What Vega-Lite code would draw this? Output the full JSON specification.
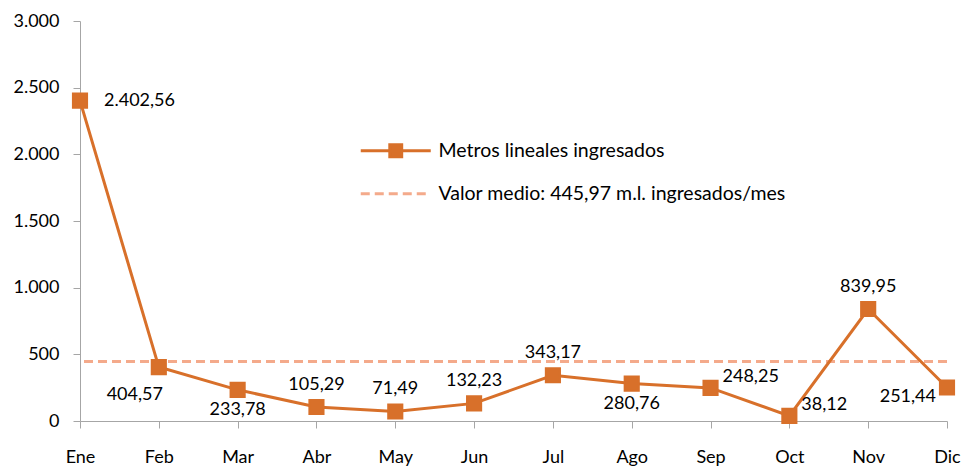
{
  "$schema": "https://vega.github.io/schema/vega-lite/v6.json",
  "autosize": "none",
  "width": 867,
  "height": 400,
  "padding": {"left": 80, "top": 21, "right": 14, "bottom": 50},
  "config": {
    "locale": {"number": {"decimal": ",", "thousands": ".", "grouping": [3], "currency": ["", " €"]}},
    "view": {"stroke": null},
    "font": "Lato",
    "text": {"font": "Lato", "fontSize": 18, "color": "#000"}
  },
  "datasets": {
    "meses": [
      {"mes": "Ene", "valor": 2402.56},
      {"mes": "Feb", "valor": 404.57},
      {"mes": "Mar", "valor": 233.78},
      {"mes": "Abr", "valor": 105.29},
      {"mes": "May", "valor": 71.49},
      {"mes": "Jun", "valor": 132.23},
      {"mes": "Jul", "valor": 343.17},
      {"mes": "Ago", "valor": 280.76},
      {"mes": "Sep", "valor": 248.25},
      {"mes": "Oct", "valor": 38.12},
      {"mes": "Nov", "valor": 839.95},
      {"mes": "Dic", "valor": 251.44}
    ],
    "media": [{"media": 445.97}]
  },
  "layer": [
    {
      "data": {"name": "media"},
      "mark": {"type": "rule", "strokeWidth": 3, "strokeDash": [9, 5]},
      "encoding": {
        "y": {"field": "media", "type": "quantitative", "scale": {"domain": [0, 3000]}},
        "strokeDash": {
          "datum": "Valor medio: 445,97 m.l. ingresados/mes",
          "scale": {"domain": ["Valor medio: 445,97 m.l. ingresados/mes"], "range": [[9, 5]]},
          "legend": {
            "orient": "none", "legendX": 306, "legendY": 163, "title": null,
            "symbolType": "M-5,0H5", "symbolSize": 196, "symbolStrokeColor": "#F4AA8B",
            "symbolStrokeWidth": 3, "symbolDash": [9, 5], "labelOffset": 33,
            "labelFont": "Lato", "labelFontSize": 19.5, "labelColor": "#000", "labelLimit": 600
          }
        },
        "color": {"value": "#F4AA8B"}
      }
    },
    {
      "data": {"name": "meses"},
      "mark": {"type": "line", "strokeWidth": 3, "color": "#D8702A",
               "point": {"shape": "square", "size": 200, "filled": true, "color": "#D8702A", "opacity": 1}},
      "encoding": {
        "x": {"field": "mes", "type": "ordinal", "sort": null,
              "scale": {"type": "point", "padding": 0},
              "axis": {"title": null, "labelAngle": 0, "labelFont": "Lato", "labelFontSize": 18, "labelColor": "#000",
                       "domainColor": "#A6A6A6", "tickColor": "#A6A6A6", "tickSize": 7, "labelPadding": 20,
                       "domainWidth": 1, "tickWidth": 1}},
        "y": {"field": "valor", "type": "quantitative", "scale": {"domain": [0, 3000]},
              "axis": {"title": null, "values": [0, 500, 1000, 1500, 2000, 2500, 3000], "format": ",.0f",
                       "grid": false, "labelFont": "Lato", "labelFontSize": 18, "labelColor": "#000",
                       "domainColor": "#A6A6A6", "tickColor": "#A6A6A6", "tickSize": 7, "labelPadding": 14}},
        "stroke": {
          "datum": "Metros lineales ingresados",
          "scale": {"domain": ["Metros lineales ingresados"], "range": ["#D8702A"]},
          "legend": {
            "orient": "none", "legendX": 306, "legendY": 120, "title": null,
            "symbolType": "M-5,0H5M-0.85,-0.85H0.85V0.85H-0.85Z", "symbolSize": 196,
            "symbolFillColor": "#D8702A", "symbolStrokeColor": "#D8702A", "symbolStrokeWidth": 3,
            "labelOffset": 33, "labelFont": "Lato", "labelFontSize": 19.5, "labelColor": "#000", "labelLimit": 600
          }
        }
      }
    },
    {
      "data": {"name": "meses"},
      "transform": [{"filter": "datum.mes === 'Ene'"}],
      "mark": {"type": "text", "align": "left", "baseline": "middle", "dx": 24, "dy": 0},
      "encoding": {
        "x": {"field": "mes", "type": "ordinal", "sort": null},
        "y": {"field": "valor", "type": "quantitative"},
        "text": {"field": "valor", "type": "quantitative", "format": ",.2f"}
      }
    },
    {
      "data": {"name": "meses"},
      "transform": [{"filter": "datum.mes === 'Sep' || datum.mes === 'Oct'"}],
      "mark": {"type": "text", "align": "left", "baseline": "middle", "dx": 12, "dy": -11},
      "encoding": {
        "x": {"field": "mes", "type": "ordinal", "sort": null},
        "y": {"field": "valor", "type": "quantitative"},
        "text": {"field": "valor", "type": "quantitative", "format": ",.2f"}
      }
    },
    {
      "data": {"name": "meses"},
      "transform": [{"filter": "datum.mes === 'Feb'"}],
      "mark": {"type": "text", "align": "center", "baseline": "middle", "dx": -24, "dy": 28},
      "encoding": {
        "x": {"field": "mes", "type": "ordinal", "sort": null},
        "y": {"field": "valor", "type": "quantitative"},
        "text": {"field": "valor", "type": "quantitative", "format": ",.2f"}
      }
    },
    {
      "data": {"name": "meses"},
      "transform": [{"filter": "datum.mes === 'Mar' || datum.mes === 'Ago'"}],
      "mark": {"type": "text", "align": "center", "baseline": "middle", "dy": 20},
      "encoding": {
        "x": {"field": "mes", "type": "ordinal", "sort": null},
        "y": {"field": "valor", "type": "quantitative"},
        "text": {"field": "valor", "type": "quantitative", "format": ",.2f"}
      }
    },
    {
      "data": {"name": "meses"},
      "transform": [{"filter": "indexof(['Abr','May','Jun','Jul','Nov'], datum.mes) >= 0"}],
      "mark": {"type": "text", "align": "center", "baseline": "middle", "dy": -22},
      "encoding": {
        "x": {"field": "mes", "type": "ordinal", "sort": null},
        "y": {"field": "valor", "type": "quantitative"},
        "text": {"field": "valor", "type": "quantitative", "format": ",.2f"}
      }
    },
    {
      "data": {"name": "meses"},
      "transform": [{"filter": "datum.mes === 'Dic'"}],
      "mark": {"type": "text", "align": "right", "baseline": "middle", "dx": -11, "dy": 10},
      "encoding": {
        "x": {"field": "mes", "type": "ordinal", "sort": null},
        "y": {"field": "valor", "type": "quantitative"},
        "text": {"field": "valor", "type": "quantitative", "format": ",.2f"}
      }
    }
  ]
}
